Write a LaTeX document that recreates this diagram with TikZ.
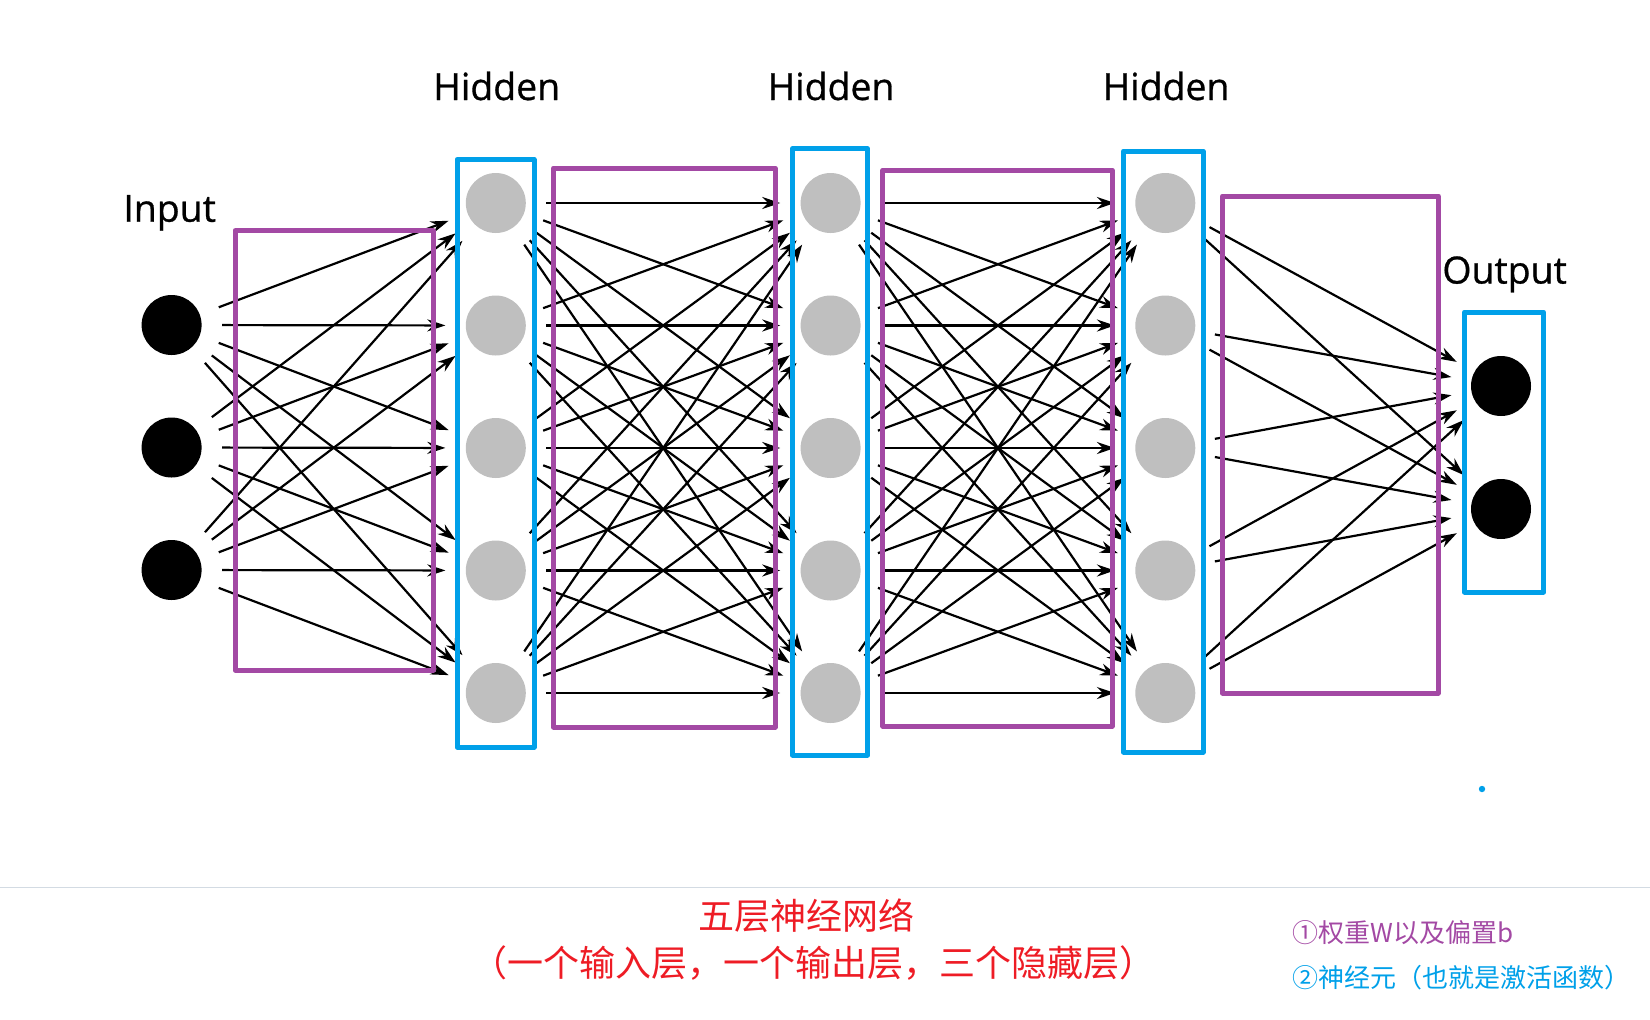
\documentclass[tikz,border=0pt]{standalone}
\usepackage{fontspec}
\setmainfont{Open Sans}
\newfontfamily\labelfont[FakeBold=0.8]{Open Sans}
\newfontfamily\cjk{Noto Sans CJK SC}
\usetikzlibrary{arrows.meta}
\definecolor{layerblue}{HTML}{00A0E9}
\definecolor{weightpurple}{HTML}{A349A4}
\definecolor{titlered}{HTML}{EE1C25}
\definecolor{rulegray}{HTML}{D3DBE3}
\tikzset{
  neuron/.style={circle,minimum size=30pt,inner sep=0pt},
  inneuron/.style={neuron,fill=black},
  hidneuron/.style={neuron,fill=black!25},
  wire/.style={->,line width=1.1pt,shorten <=10pt,shorten >=10pt},
  layerbox/.style={draw=layerblue,line width=2.5pt},
  weightbox/.style={draw=weightpurple,line width=2.5pt},
  layername/.style={font=\labelfont\fontsize{18.7}{22}\selectfont,anchor=base,inner sep=0pt}
}
\begin{document}
\begin{tikzpicture}[x=0.5pt,y=-0.5pt,>={Stealth[length=9pt,width=6pt]},line join=round]
\useasboundingbox (0,0) rectangle (1650,1019);
% layers
\foreach \k/\y in {1/325,2/447.5,3/570}
  \node[inneuron] (i\k) at (171.6,\y) {};
\foreach \k/\y in {1/203,2/325.5,3/448,4/570.5,5/693}{
  \node[hidneuron] (a\k) at (495.8,\y) {};
  \node[hidneuron] (b\k) at (830.6,\y) {};
  \node[hidneuron] (c\k) at (1165.3,\y) {};
}
\node[inneuron] (o1) at (1501,386) {};
\node[inneuron] (o2) at (1501,509) {};
% connections
\foreach \i in {1,2,3} \foreach \j in {1,...,5} \draw[wire] (i\i) -- (a\j);
\foreach \i in {1,...,5} \foreach \j in {1,...,5}{
  \draw[wire] (a\i) -- (b\j);
  \draw[wire] (b\i) -- (c\j);
}
\foreach \i in {1,...,5} \foreach \j in {1,2} \draw[wire] (c\i) -- (o\j);
% boxes
\draw[weightbox] (235,230.7) rectangle (433,670);
\draw[weightbox] (553.4,168) rectangle (775,727);
\draw[weightbox] (882.9,170) rectangle (1112,726);
\draw[weightbox] (1222.5,196) rectangle (1438.3,693);
\draw[layerbox] (457,159.5) rectangle (534,747);
\draw[layerbox] (792.4,148.8) rectangle (867.6,755);
\draw[layerbox] (1123.6,151) rectangle (1203,752);
\draw[layerbox] (1464.5,312) rectangle (1543.5,592);
\fill[layerblue] (1482,789) circle (1.6pt);
% labels
\node[layername,anchor=base west] (lin) at (123,221.7) {Input};
\node[layername] (la) at (496.7,100) {Hidden};
\node[layername] (lb) at (831,100) {Hidden};
\node[layername] (lc) at (1166,100) {Hidden};
\node[layername,anchor=base west] (lout) at (1442,283.5) {Output};
% caption
\draw[rulegray,line width=0.8pt] (0,887.5) -- (1650,887.5);
\node[titlered,font=\cjk\fontsize{18}{20}\selectfont] (cap1) at (806,915.5) {五层神经网络};
\node[titlered,font=\cjk\fontsize{18}{20}\selectfont] (cap2) at (813,963) {（一个输入层，一个输出层，三个隐藏层）};
\node[weightpurple,font=\cjk\fontsize{13}{15}\selectfont,anchor=west,inner sep=0pt] (note1) at (1292,932.3) {①权重W以及偏置b};
\node[layerblue,font=\cjk\fontsize{13}{15}\selectfont,anchor=west,inner sep=0pt] (note2) at (1292,977.6) {②神经元（也就是激活函数）};
\end{tikzpicture}
\end{document}
